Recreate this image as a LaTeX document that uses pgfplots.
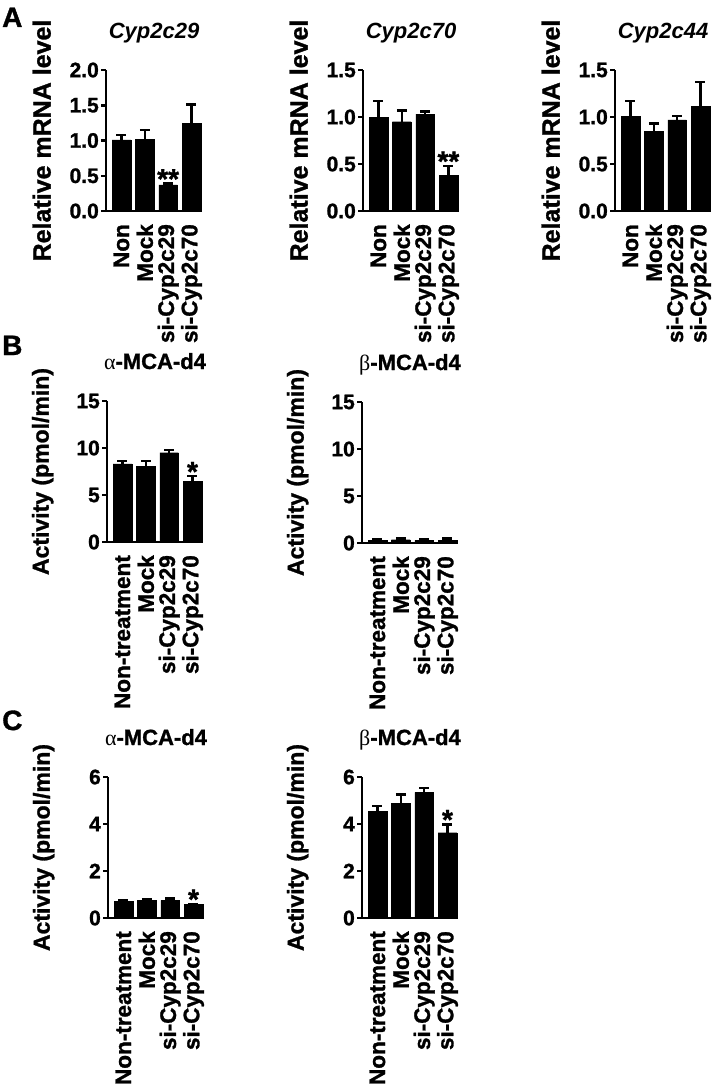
\documentclass[border=0pt]{standalone}
\usepackage{pgfplots}
\pgfplotsset{compat=1.18}
\usepackage{fontspec}
\setmainfont{Liberation Sans}[BoldFeatures={FakeBold=1.2}]
\newfontfamily\grk{Liberation Serif}
\newcommand{\fs}[1]{\fontsize{#1}{#1}\selectfont}
\tikzset{sigstar/.style={anchor=base, yshift=-5pt, font=\bfseries\fs{28}, inner sep=0pt}}
\pgfplotsset{
  panel/.style={
    scale only axis, width=96pt, height=141pt, anchor=south west,
    axis lines*=left, axis line style={line width=2.5pt},
    xmin=-0.66, xmax=3.45, ymin=0,
    xtick={0,1,2,3}, major x tick style={draw=none},
    ytick style={line width=2.5pt, black},
    tick align=outside, major tick length=5pt,
    ybar, bar width=0.8,
    /pgf/number format/assume math mode=true,
    font=\bfseries\fs{22},
    ylabel style={at={(axis description cs:-0.67,0.5)}, anchor=center, font=\bfseries\fs{23}},
    title style={at={(axis description cs:0.5,1)}, anchor=base, yshift=26pt, font=\bfseries\fs{22}},
    xticklabel style={rotate=90, anchor=east, inner sep=0pt, font=\bfseries\fs{22.5}},
    xticklabel shift=8pt,
    yticklabel style={inner sep=0pt, font=\bfseries\fs{21}},
    yticklabel shift=2pt,
  },
  mrna/.style={ylabel style={font=\bfseries\fs{25}}},
  bars/.style={fill=black, draw=black,
    error bars/.cd, y dir=plus, y explicit,
    error bar style={line width=2.5pt, black},
    error mark options={rotate=90, line width=2.5pt, mark size=5pt, black}},
}
\begin{document}
\begin{tikzpicture}
\useasboundingbox (0,0) rectangle (716pt,-1084pt);
\node[anchor=base west, font=\bfseries\fs{28}, inner sep=0pt] at (2pt,-27pt) {A};
\node[anchor=base west, font=\bfseries\fs{28}, inner sep=0pt] at (2pt,-355pt) {B};
\node[anchor=base west, font=\bfseries\fs{28}, inner sep=0pt] at (2pt,-730pt) {C};

% A1
\begin{axis}[panel, mrna, at={(106pt,-211pt)}, ymax=2,
  ytick={0,0.5,1,1.5,2}, yticklabels={0.0,0.5,1.0,1.5,2.0},
  xticklabels={Non,Mock,si-Cyp2c29,si-Cyp2c70},
  title={\itshape Cyp2c29}, ylabel={Relative mRNA level}]
\addplot[bars] table[x=x,y=y,y error=e] {
x y e
0 1.01 0.07
1 1.02 0.13
2 0.37 0.02
3 1.24 0.27
};
\node[sigstar] at (axis cs:2,0.39) {**};
\end{axis}

% A2
\begin{axis}[panel, mrna, at={(363pt,-211pt)}, ymax=1.5,
  ytick={0,0.5,1,1.5}, yticklabels={0.0,0.5,1.0,1.5},
  xticklabels={Non,Mock,si-Cyp2c29,si-Cyp2c70},
  title={\itshape Cyp2c70}, ylabel={Relative mRNA level}]
\addplot[bars] table[x=x,y=y,y error=e] {
x y e
0 1.00 0.17
1 0.95 0.12
2 1.03 0.03
3 0.38 0.10
};
\node[sigstar] at (axis cs:3,0.48) {**};
\end{axis}

% A3
\begin{axis}[panel, mrna, at={(615pt,-211pt)}, ymax=1.5,
  ytick={0,0.5,1,1.5}, yticklabels={0.0,0.5,1.0,1.5},
  xticklabels={Non,Mock,si-Cyp2c29,si-Cyp2c70},
  title={\itshape Cyp2c44}, ylabel={Relative mRNA level}]
\addplot[bars] table[x=x,y=y,y error=e] {
x y e
0 1.01 0.16
1 0.85 0.08
2 0.97 0.04
3 1.11 0.26
};
\end{axis}

% B1
\begin{axis}[panel, at={(107pt,-542pt)}, ymax=15,
  ytick={0,5,10,15},
  xticklabels={Non-treatment,Mock,si-Cyp2c29,si-Cyp2c70},
  title={{\grk\mdseries α}-MCA-d4}, ylabel={Activity (pmol/min)}]
\addplot[bars] table[x=x,y=y,y error=e] {
x y e
0 8.3 0.3
1 8.05 0.55
2 9.5 0.3
3 6.45 0.55
};
\node[sigstar] at (axis cs:3,7.0) {*};
\end{axis}

% B2
\begin{axis}[panel, at={(362pt,-543pt)}, ymax=15,
  ytick={0,5,10,15},
  xticklabels={Non-treatment,Mock,si-Cyp2c29,si-Cyp2c70},
  title={{\grk\mdseries β}-MCA-d4}, ylabel={Activity (pmol/min)}]
\addplot[bars] table[x=x,y=y,y error=e] {
x y e
0 0.28 0.15
1 0.35 0.15
2 0.28 0.15
3 0.32 0.15
};
\end{axis}

% C1
\begin{axis}[panel, at={(108pt,-918pt)}, ymax=6,
  ytick={0,2,4,6},
  xticklabels={Non-treatment,Mock,si-Cyp2c29,si-Cyp2c70},
  title={{\grk\mdseries α}-MCA-d4}, ylabel={Activity (pmol/min)}]
\addplot[bars] table[x=x,y=y,y error=e] {
x y e
0 0.72 0.03
1 0.75 0.04
2 0.75 0.07
3 0.57 0.03
};
\node[sigstar] at (axis cs:3,0.6) {*};
\end{axis}

% C2
\begin{axis}[panel, at={(362pt,-918pt)}, ymax=6,
  ytick={0,2,4,6},
  xticklabels={Non-treatment,Mock,si-Cyp2c29,si-Cyp2c70},
  title={{\grk\mdseries β}-MCA-d4}, ylabel={Activity (pmol/min)}]
\addplot[bars] table[x=x,y=y,y error=e] {
x y e
0 4.54 0.23
1 4.87 0.38
2 5.35 0.18
3 3.63 0.36
};
\node[sigstar] at (axis cs:3,3.99) {*};
\end{axis}
\end{tikzpicture}
\end{document}
